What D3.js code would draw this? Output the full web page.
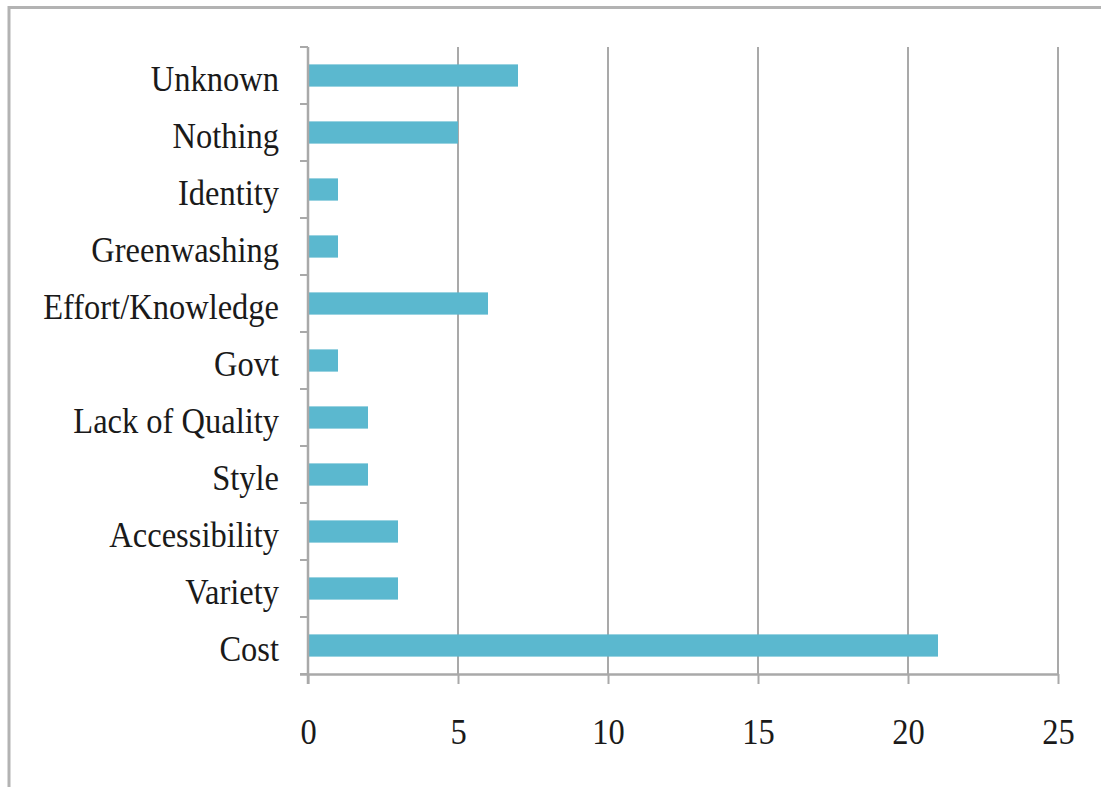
<!DOCTYPE html>
<html>
<head>
<meta charset="utf-8">
<script src="https://cdn.jsdelivr.net/npm/d3@7"></script>
<style>
  html, body { margin: 0; padding: 0; background: #fff; }
  svg { display: block; }
  text { font-family: "Liberation Serif", "DejaVu Serif", serif; fill: #1a1a1a; }
</style>
</head>
<body>
<svg id="chart" width="1101" height="787"></svg>
<script>
// Reasons given, listed top to bottom
const categories = ["Unknown", "Nothing", "Identity", "Greenwashing", "Effort/Knowledge",
  "Govt", "Lack of Quality", "Style", "Accessibility", "Variety", "Cost"];
const counts = [7, 5, 1, 1, 6, 1, 2, 2, 3, 3, 21];
const xTicks = [0, 5, 10, 15, 20, 25];

const svg = d3.select("#chart");
const gridColor = "#a9a9a9";
const barColor = "#5bb8cf";
const fontSize = 32.5;
const stretch = 1.08;

const plot = { left: 308, right: 1058, top: 47, bottom: 674 };

const x = d3.scaleLinear().domain([0, 25]).range([plot.left, plot.right]);
const y = d3.scaleBand().domain(categories).range([plot.top, plot.bottom]).paddingInner(0.61).paddingOuter(0.305);
const yBounds = d3.scaleBand().domain(categories).range([plot.top, plot.bottom]);

// Outer frame
svg.append("path")
  .attr("d", `M9,787 V7.5 H1101`)
  .attr("fill", "none").attr("stroke", "#b3b3b3").attr("stroke-width", 3);

// Vertical gridlines
svg.append("g").selectAll("line")
  .data(xTicks.filter(d => d > 0))
  .join("line")
  .attr("x1", d => x(d)).attr("x2", d => x(d))
  .attr("y1", plot.top).attr("y2", plot.bottom)
  .attr("stroke", gridColor).attr("stroke-width", 2);

// Bars
svg.append("g").selectAll("rect")
  .data(categories.map((c, i) => ({ c, v: counts[i] })))
  .join("rect")
  .attr("x", x(0))
  .attr("y", d => y(d.c))
  .attr("width", d => x(d.v) - x(0))
  .attr("height", y.bandwidth())
  .attr("fill", barColor);

// Bottom axis
const xAxis = d3.axisBottom(x).tickValues(xTicks).tickSize(10).tickSizeOuter(0).tickFormat(d3.format("d"));
const gx = svg.append("g").attr("transform", `translate(0,${plot.bottom})`).call(xAxis);
gx.select(".domain").attr("stroke", gridColor).attr("stroke-width", 2.5)
  .attr("d", `M${plot.left - 8},0.5H${plot.right}`);
gx.selectAll(".tick line").attr("stroke", gridColor).attr("stroke-width", 2);
gx.selectAll(".tick text")
  .attr("font-size", fontSize).attr("font-family", null).attr("fill", "#1a1a1a")
  .attr("y", 0).attr("dy", null)
  .attr("transform", `translate(0,70) scale(1,${stretch})`);

// Left axis with ticks on the category boundaries
svg.append("line")
  .attr("x1", plot.left).attr("x2", plot.left)
  .attr("y1", plot.top).attr("y2", plot.bottom + 10)
  .attr("stroke", gridColor).attr("stroke-width", 2.5);
const bounds = categories.map(c => yBounds(c)).concat([plot.bottom]);
svg.append("g").selectAll("line")
  .data(bounds)
  .join("line")
  .attr("x1", plot.left - 8).attr("x2", plot.left)
  .attr("y1", d => d).attr("y2", d => d)
  .attr("stroke", gridColor).attr("stroke-width", 2);

// Category labels
svg.append("g").selectAll("text")
  .data(categories)
  .join("text")
  .attr("text-anchor", "end")
  .attr("font-size", fontSize)
  .attr("transform", c => `translate(279,${yBounds(c) + yBounds.bandwidth() / 2 + 15}) scale(1,${stretch})`)
  .text(c => c);
</script>
</body>
</html>
